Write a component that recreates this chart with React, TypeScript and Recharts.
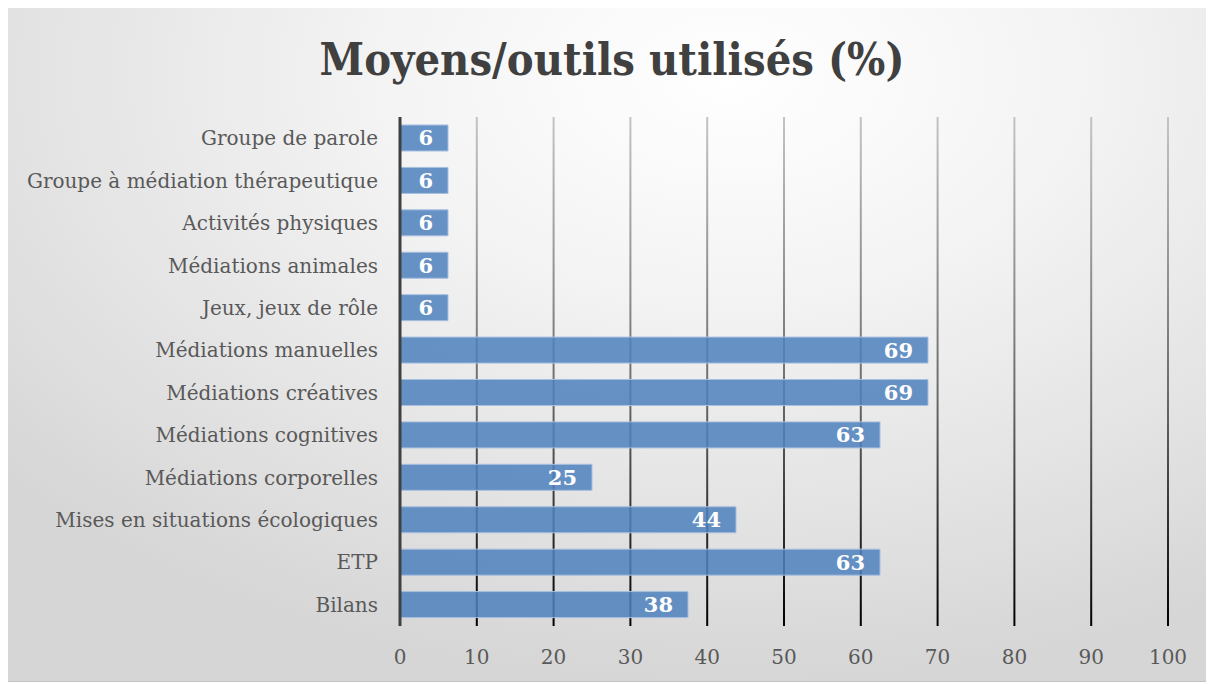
import React from "react";
import { BarChart, Bar, XAxis, YAxis, CartesianGrid, LabelList } from "recharts";

const categories = [
  "Groupe de parole",
  "Groupe à médiation thérapeutique",
  "Activités physiques",
  "Médiations animales",
  "Jeux, jeux de rôle",
  "Médiations manuelles",
  "Médiations créatives",
  "Médiations cognitives",
  "Médiations corporelles",
  "Mises en situations écologiques",
  "ETP",
  "Bilans",
];
const values = [6.25, 6.25, 6.25, 6.25, 6.25, 68.75, 68.75, 62.5, 25, 43.75, 62.5, 37.5];
const xTicks = [0, 10, 20, 30, 40, 50, 60, 70, 80, 90, 100];
const title = "Moyens/outils utilisés (%)";

const data = categories.map((name, i) => ({ name, value: values[i] }));

const FONT = "'DejaVu Serif', serif";

export default function App() {
  return (
    <div
      style={{
        position: "relative",
        width: 1205,
        height: 675,
        boxSizing: "border-box",
        border: "1px solid #c3c3c3",
        background:
          "radial-gradient(ellipse 80% 90% at 60% 10%, #ffffff 0%, #f4f4f4 35%, #e2e2e2 75%, #d6d6d6 100%)",
        marginLeft: -1,
        marginTop: -1,
      }}
    >
      <svg
        width={1203}
        height={100}
        style={{ position: "absolute", left: 0, top: 0 }}
      >
        <text
          x={604}
          y={67}
          textAnchor="middle"
          fontFamily={FONT}
          fontWeight="bold"
          fontSize={45}
          fill="#404040"
          textLength={585}
          lengthAdjust="spacingAndGlyphs"
        >
          {title}
        </text>
      </svg>
      <BarChart
        width={1203}
        height={673}
        data={data}
        layout="vertical"
        margin={{ top: 109, right: 43, bottom: 15, left: 0 }}
        style={{ position: "absolute", left: 0, top: 0 }}
      >
        <defs>
          <linearGradient id="gridGrad" gradientUnits="userSpaceOnUse" x1="0" y1="109" x2="0" y2="619">
            <stop offset="0%" stopColor="#c4c4c4" />
            <stop offset="55%" stopColor="#6a6a6a" />
            <stop offset="100%" stopColor="#000000" />
          </linearGradient>
        </defs>
        <CartesianGrid horizontal={false} stroke="url(#gridGrad)" strokeWidth={2} />
        <XAxis
          type="number"
          domain={[0, 100]}
          ticks={xTicks}
          axisLine={false}
          tickLine={false}
          tickMargin={18}
          height={40}
          tick={{ fill: "#595959", fontSize: 20, fontFamily: FONT }}
        />
        <YAxis
          type="category"
          dataKey="name"
          width={392}
          axisLine={{ stroke: "#404040", strokeWidth: 3 }}
          tickLine={false}
          tickMargin={16}
          interval={0}
          tick={{ fill: "#595959", fontSize: 20, fontFamily: FONT }}
        />
        <Bar
          dataKey="value"
          barSize={26}
          fill="#4f81bd"
          fillOpacity={0.86}
          stroke="#a7bfe0"
          strokeWidth={1}
          isAnimationActive={false}
        >
          <LabelList
            dataKey="value"
            position="insideRight"
            offset={15}
            formatter={(v: number) => String(Math.round(v))}
            fill="#ffffff"
            fontSize={21}
            fontWeight="bold"
            fontFamily={FONT}
          />
        </Bar>
      </BarChart>
    </div>
  );
}
